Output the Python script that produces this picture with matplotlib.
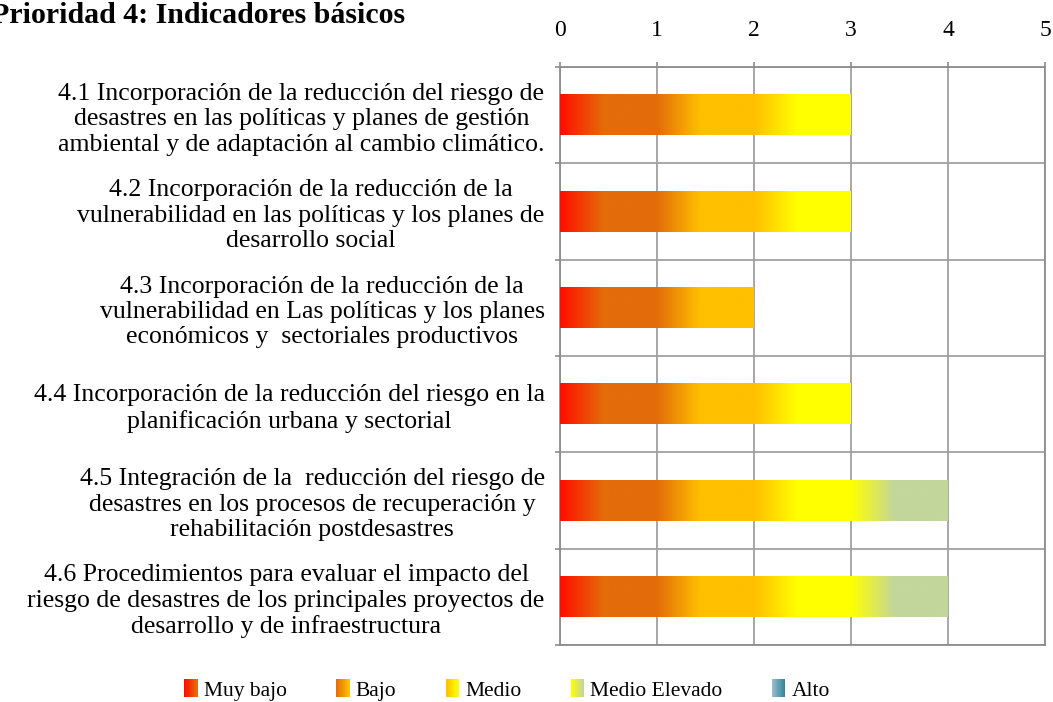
import numpy as np
import matplotlib
matplotlib.use("Agg")
import matplotlib.pyplot as plt
from matplotlib.colors import to_rgb
from matplotlib.patches import Rectangle
from matplotlib.legend_handler import HandlerBase

plt.rcParams['font.family'] = ['Liberation Serif', 'DejaVu Serif']

categories = [
    "4.1 Incorporación de la reducción del riesgo de\ndesastres en las políticas y planes de gestión\nambiental y de adaptación al cambio climático.",
    "4.2 Incorporación de la reducción de la\nvulnerabilidad en las políticas y los planes de\ndesarrollo social",
    "4.3 Incorporación de la reducción de la\nvulnerabilidad en Las políticas y los planes\neconómicos y  sectoriales productivos",
    "4.4 Incorporación de la reducción del riesgo en la\nplanificación urbana y sectorial",
    "4.5 Integración de la  reducción del riesgo de\ndesastres en los procesos de recuperación y\nrehabilitación postdesastres",
    "4.6 Procedimientos para evaluar el impacto del\nriesgo de desastres de los principales proyectos de\ndesarrollo y de infraestructura",
]
series_names = ["Muy bajo", "Bajo", "Medio", "Medio Elevado", "Alto"]
muy_bajo = [1, 1, 1, 1, 1, 1]
bajo = [1, 1, 1, 1, 1, 1]
medio = [1, 1, 0, 1, 1, 1]
medio_elevado = [0, 0, 0, 0, 1, 1]
alto = [0, 0, 0, 0, 0, 0]
series = [muy_bajo, bajo, medio, medio_elevado, alto]
x_ticks = [0, 1, 2, 3, 4, 5]
title = "Prioridad 4: Indicadores básicos"

end_colors = ["#E46C0A", "#FFC000", "#FFFF00", "#C3D69B", "#31859C"]
start_colors = ["#FF0D00", "#E46C0A", "#FFC000", "#FFFF00", "#9DBCCB"]

def gradient_row(c0, c1, n=200, ramp=0.45):
    c0 = np.array(to_rgb(c0)); c1 = np.array(to_rgb(c1))
    t = np.clip(np.linspace(0, 1, n) / ramp, 0, 1)
    return (c0[None, :] * (1 - t[:, None]) + c1[None, :] * t[:, None])[None, :, :]

fig = plt.figure(figsize=(10.53, 7.02), dpi=100)
ax = fig.add_axes([560/1053, 1-645/702, 485/1053, 578/702])

y = np.arange(len(categories))
left = np.zeros(len(categories))
for k, vals in enumerate(series):
    bars = ax.barh(y, vals, left=left, height=0.42, color='none', edgecolor='none', zorder=3)
    img = gradient_row(start_colors[k], end_colors[k])
    for p in bars.patches:
        w = p.get_width()
        if w <= 0:
            continue
        x0, y0, h = p.get_x(), p.get_y(), p.get_height()
        ax.imshow(img, extent=[x0, x0 + w, y0 + h, y0], aspect='auto',
                  interpolation='bilinear', zorder=3)
    left = left + np.array(vals)

ax.set_xlim(0, 5)
ax.set_ylim(len(categories) - 0.5, -0.5)
ax.set_xticks(x_ticks)
ax.xaxis.tick_top()
ax.tick_params(axis='x', which='major', length=3.6, width=1.2, color='#8C8C8C',
               labelsize=17, pad=15)
ax.set_yticks(y)
ax.set_yticklabels(categories)
ax.set_yticks(np.arange(-0.5, len(categories), 1), minor=True)
ax.tick_params(axis='y', which='major', length=0, labelsize=18.5, pad=11)
ax.tick_params(axis='y', which='minor', length=3.6, width=1.2, color='#8C8C8C')
for lab in ax.get_yticklabels():
    lab.set_multialignment('center')
    lab.set_linespacing(1.2)
ax.grid(axis='x', which='major', color='#A0A0A0', linewidth=1.3, zorder=1)
ax.grid(axis='y', which='minor', color='#A0A0A0', linewidth=1.3, zorder=1)
ax.set_axisbelow(True)
for s in ax.spines.values():
    s.set_color('#8C8C8C')
    s.set_linewidth(1.3)

fig.text(405/1053, 1-23/702, title, ha='right', va='baseline',
         fontsize=21.5, fontweight='bold')

class GradHandler(HandlerBase):
    def __init__(self, c0, c1):
        super().__init__()
        self.c0 = np.array(to_rgb(c0)); self.c1 = np.array(to_rgb(c1))
    def create_artists(self, legend, orig_handle, xdescent, ydescent, width, height, fontsize, trans):
        n = 12
        arts = []
        for i in range(n):
            t = i / (n - 1)
            c = self.c0 * (1 - t) + self.c1 * t
            r = Rectangle((-xdescent + width * i / n, -ydescent), width / n + 0.3, height,
                          facecolor=c, edgecolor='none', transform=trans)
            arts.append(r)
        return arts

handles = [Rectangle((0, 0), 1, 1) for _ in series_names]
hmap = {h: GradHandler(start_colors[i], end_colors[i]) for i, h in enumerate(handles)}
fig.legend(handles, series_names, handler_map=hmap, loc='center',
           bbox_to_anchor=(507/1053, 1-690/702), ncol=5, frameon=False,
           fontsize=15.5, handlelength=0.6, handleheight=0.9, handletextpad=0.3,
           columnspacing=2.3)

fig.savefig("out.png", dpi=100)
